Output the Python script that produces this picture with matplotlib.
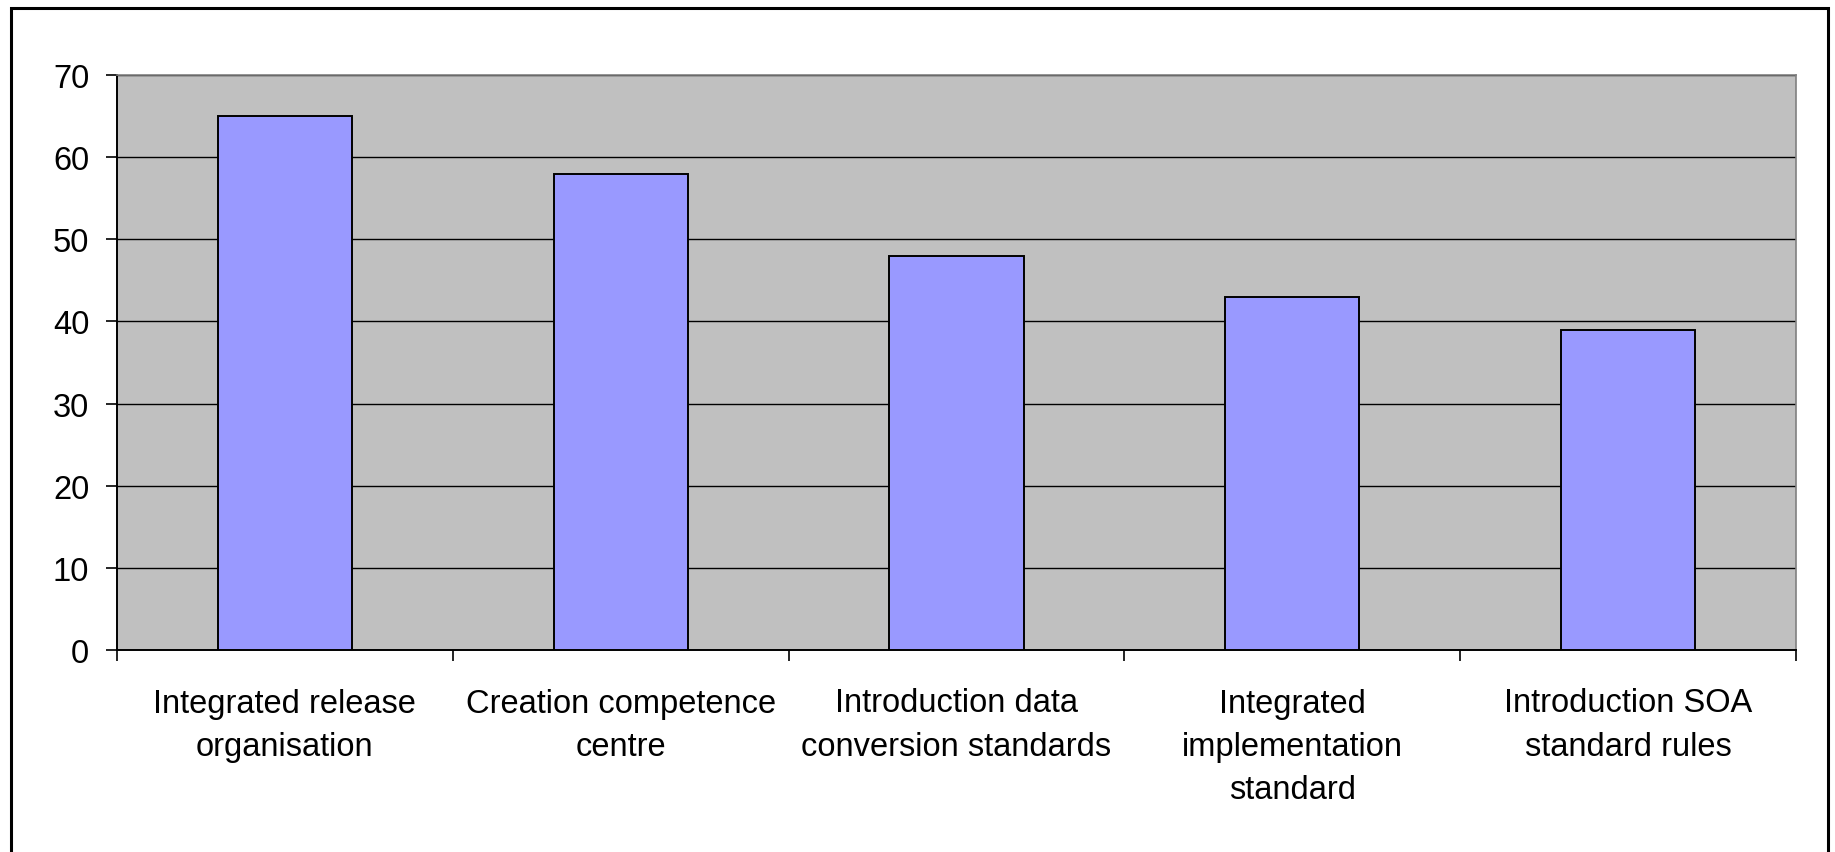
import matplotlib
matplotlib.use("Agg")
import matplotlib.pyplot as plt
from matplotlib.patches import Rectangle
import numpy as np

# --- data ---
categories = [
    "Integrated release\norganisation",
    "Creation competence\ncentre",
    "Introduction data\nconversion standards",
    "Integrated\nimplementation\nstandard",
    "Introduction SOA\nstandard rules",
]
values = [65, 58, 48, 43, 39]
y_ticks = [0, 10, 20, 30, 40, 50, 60, 70]

plt.rcParams['font.family'] = ['Liberation Sans', 'DejaVu Sans']

fig = plt.figure(figsize=(18.35, 8.53), dpi=100)
ax = fig.add_axes([117 / 1835, 1 - 651 / 853, (1796 - 117) / 1835, (651 - 76) / 853])

# outer chart frame
fig.patches.append(Rectangle((11 / 1835, -0.05), (1828 - 11) / 1835, 1.05 - 9 / 853,
                             transform=fig.transFigure, fill=False,
                             edgecolor='black', linewidth=2.2))

x = np.arange(len(categories))
ax.set_facecolor('#C0C0C0')
ax.set_axisbelow(True)
ax.yaxis.grid(True, color='black', linewidth=1.0)
ax.bar(x, values, width=0.4, color='#9999FF', edgecolor='black', linewidth=1.4, zorder=3)

ax.set_xlim(-0.5, len(categories) - 0.5)
ax.set_ylim(0, 70)
ax.set_yticks(y_ticks)

# category labels centred, tick marks on the boundaries
ax.set_xticks(x)
ax.set_xticklabels(categories, linespacing=1.52)
ax.set_xticks(np.arange(-0.5, len(categories)), minor=True)
ax.tick_params(axis='x', which='major', length=0, pad=27, labelsize=23.5)
ax.tick_params(axis='x', which='minor', length=8, width=1.2, direction='out')
ax.tick_params(axis='y', length=8, width=1.2, pad=12, labelsize=23.5)

for side in ['left', 'bottom']:
    ax.spines[side].set_color('black')
    ax.spines[side].set_linewidth(1.4)
for side in ['top', 'right']:
    ax.spines[side].set_color('#808080')
    ax.spines[side].set_linewidth(1.2)

fig.savefig("out.png", dpi=100)
